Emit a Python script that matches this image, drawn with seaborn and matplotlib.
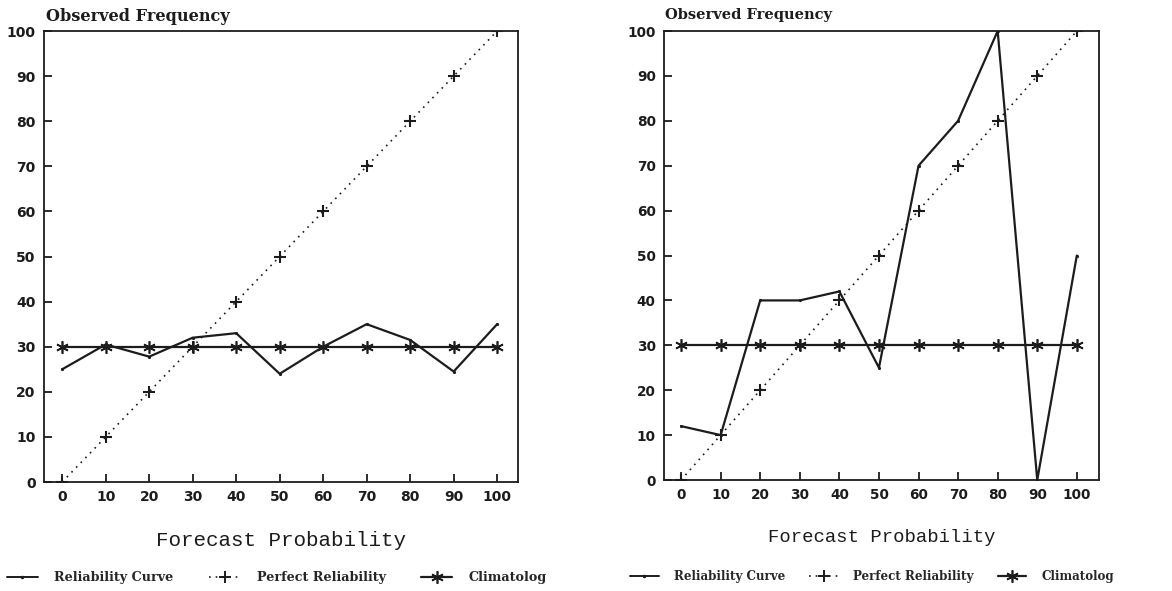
import matplotlib
matplotlib.use("Agg")
import matplotlib.pyplot as plt
from matplotlib.lines import Line2D
import numpy as np
import pandas as pd
import seaborn as sns

# Forecast probability bins (%)
prob = [0, 10, 20, 30, 40, 50, 60, 70, 80, 90, 100]

# Observed frequency (%) for the two verification sets
reliability_left = [25, 30.5, 27.8, 32, 33, 24, 30, 35, 31.5, 24.5, 35]
reliability_right = [12, 10, 40, 40, 42, 25, 70, 80, 100, 0, 50]

# Reference curves
perfect = [0, 10, 20, 30, 40, 50, 60, 70, 80, 90, 100]
climatology = [30, 30, 30, 30, 30, 30, 30, 30, 30, 30, 30]

yticks = [0, 10, 20, 30, 40, 50, 60, 70, 80, 90, 100]
legend_labels = ["Reliability Curve", "Perfect Reliability", "Climatolog"]

sns.set_style("white")
plt.rcParams["font.family"] = ["DejaVu Sans"]

INK = "#1c1c1c"
CLIM_MARKER = (6, 2, 0)

fig = plt.figure(figsize=(11.72, 5.91), dpi=100)
ax_l = fig.add_axes([0.0375, 0.1844, 0.4045, 0.7631])
ax_r = fig.add_axes([0.5666, 0.1878, 0.3711, 0.7597])


def draw_panel(ax, rel, xlim, tick_fs, label_fs):
    sns.lineplot(x=prob, y=perfect, ax=ax, color=INK, lw=1.2,
                 linestyle=(0, (1, 3)), marker="+", markersize=9,
                 markeredgewidth=1.5, markeredgecolor=INK)
    sns.lineplot(x=prob, y=climatology, ax=ax, color=INK, lw=1.6,
                 marker=CLIM_MARKER, markersize=9, markeredgewidth=1.2,
                 markeredgecolor=INK)
    sns.lineplot(x=prob, y=rel, ax=ax, color=INK, lw=1.6,
                 marker=".", markersize=3, markeredgecolor=INK)
    ax.set_xlim(*xlim)
    ax.set_ylim(0, 100)
    ax.set_xticks(prob)
    ax.set_yticks(yticks)
    ax.set_xticklabels([str(p) for p in prob], fontsize=tick_fs,
                       fontweight="bold", color=INK)
    ax.set_yticklabels([str(v) for v in yticks], fontsize=tick_fs,
                       fontweight="bold", color=INK)
    ax.tick_params(axis="x", bottom=True, direction="in", length=5.5,
                   width=1.3, color=INK, pad=6)
    ax.tick_params(axis="y", left=True, direction="in", length=5.5,
                   width=1.3, color=INK, pad=6)
    for s in ax.spines.values():
        s.set_visible(True)
        s.set_color(INK)
        s.set_linewidth(1.3)
    ax.set_xlabel("Forecast Probability", fontsize=label_fs,
                  family="Liberation Mono", color=INK, labelpad=19)
    ax.set_ylabel("")
    ax.grid(False)


draw_panel(ax_l, reliability_left, (-4.2, 104.8), 10, 15)
draw_panel(ax_r, reliability_right, (-4.3, 105.6), 9.8, 13.6)

fig.text(0.039, 0.972, "Observed Frequency", fontsize=11.6,
         fontweight="bold", family="DejaVu Serif", color=INK, va="center")
fig.text(0.567, 0.974, "Observed Frequency", fontsize=10.5,
         fontweight="bold", family="DejaVu Serif", color=INK, va="center")

handles = [
    Line2D([], [], color=INK, lw=1.4, marker=".", markersize=3),
    Line2D([], [], color=INK, lw=1.2, linestyle=(0, (1, 3)), marker="+",
           markersize=9, markeredgewidth=1.4),
    Line2D([], [], color=INK, lw=1.6, marker=CLIM_MARKER, markersize=9,
           markeredgewidth=1.2),
]
for x_anchor, y_anchor, fs, colsp in ((0.006, 0.022, 9.2, 2.8),
                                      (0.5375, 0.025, 8.6, 2.0)):
    fig.legend(handles, legend_labels, loc="center left",
               bbox_to_anchor=(x_anchor, y_anchor), ncol=3, frameon=False,
               borderpad=0, borderaxespad=0,
               handlelength=2.4, columnspacing=colsp, handletextpad=1.3,
               prop={"family": "DejaVu Serif", "weight": "bold", "size": fs})

fig.savefig("out.png", dpi=100, facecolor="white")
